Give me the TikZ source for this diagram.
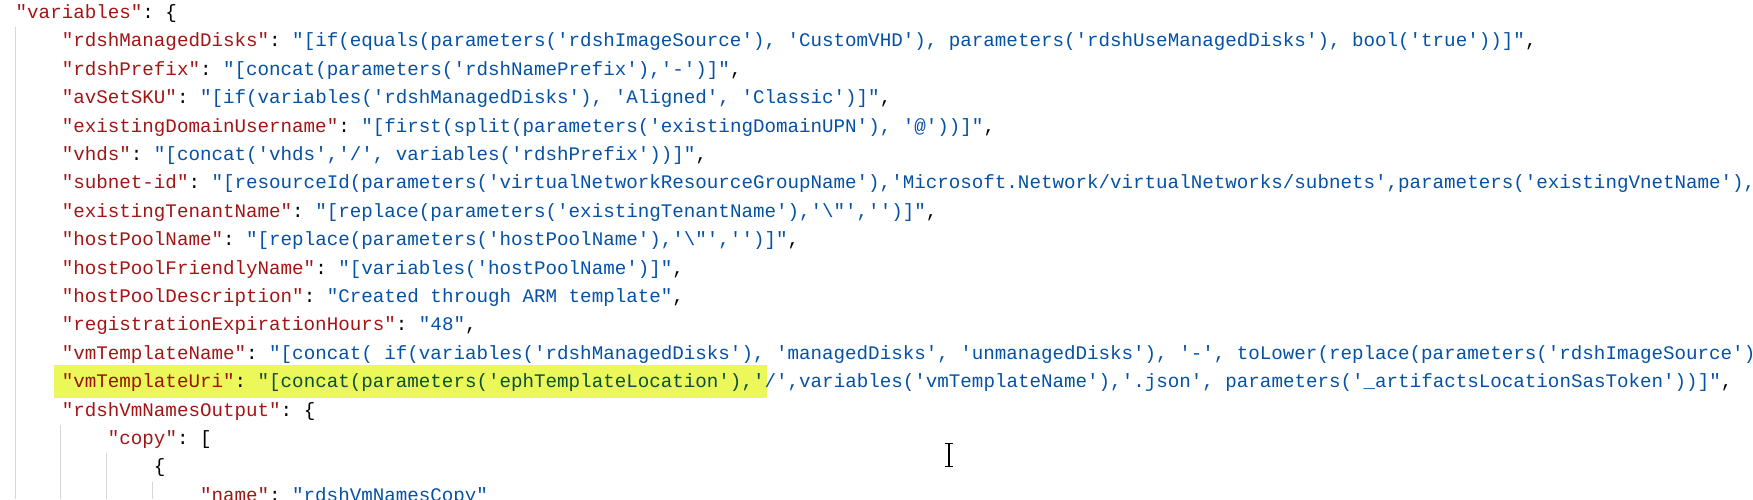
\documentclass[tikz,border=0pt]{standalone}
\usepackage{fontspec}
\setmonofont{Liberation Mono}
\usepackage{tikz}
\usepackage{xcolor}

\definecolor{jsonkey}{HTML}{A31515}
\definecolor{jsonstr}{HTML}{0451A5}
\definecolor{hlkey}{HTML}{96140A}
\definecolor{hlstr}{HTML}{0A4E3C}
\definecolor{marker}{HTML}{ECF85A}
\definecolor{guidegray}{HTML}{D6D6D6}

\newcommand{\jk}[1]{\textcolor{jsonkey}{#1}}
\newcommand{\js}[1]{\textcolor{jsonstr}{#1}}
\newcommand{\bsl}{\char92\relax}

\begin{document}
\begin{tikzpicture}[x=1pt,y=-1pt,
    codeline/.style={anchor=base west, inner sep=0pt, font=\ttfamily\fontsize{19.2pt}{23pt}\selectfont},
    guide/.style={draw=guidegray, line width=1pt}]
    % Canvas
    \useasboundingbox (0,0) rectangle (1753,499);
    \clip (0,0) rectangle (1753,499);

    % Marker on the vmTemplateUri line
    \fill[marker] (54,365) rectangle (767,398);

    % Indent guides
    \foreach \gx/\gy in {15/27, 60.5/425, 106.5/453, 152.5/482}
        \draw[guide] (\gx,\gy) -- (\gx,499);

    % Code lines
    \node[codeline] (l0) at (15.5,18.5) {\jk{"variables"}: \{};
    \node[codeline] (l1) at (61.6,46.9) {\jk{"rdshManagedDisks"}: \js{"[if(equals(parameters('rdshImageSource'), 'CustomVHD'), parameters('rdshUseManagedDisks'), bool('true'))]"},};
    \node[codeline] (l2) at (61.6,75.3) {\jk{"rdshPrefix"}: \js{"[concat(parameters('rdshNamePrefix'),'-')]"},};
    \node[codeline] (l3) at (61.6,103.7) {\jk{"avSetSKU"}: \js{"[if(variables('rdshManagedDisks'), 'Aligned', 'Classic')]"},};
    \node[codeline] (l4) at (61.6,132.1) {\jk{"existingDomainUsername"}: \js{"[first(split(parameters('existingDomainUPN'), '@'))]"},};
    \node[codeline] (l5) at (61.6,160.5) {\jk{"vhds"}: \js{"[concat('vhds','/', variables('rdshPrefix'))]"},};
    \node[codeline] (l6) at (61.6,188.9) {\jk{"subnet-id"}: \js{"[resourceId(parameters('virtualNetworkResourceGroupName'),'Microsoft.Network/virtualNetworks/subnets',parameters('existingVnetName'),}};
    \node[codeline] (l7) at (61.6,217.3) {\jk{"existingTenantName"}: \js{"[replace(parameters('existingTenantName'),'\bsl"','')]"},};
    \node[codeline] (l8) at (61.6,245.7) {\jk{"hostPoolName"}: \js{"[replace(parameters('hostPoolName'),'\bsl"','')]"},};
    \node[codeline] (l9) at (61.6,274.1) {\jk{"hostPoolFriendlyName"}: \js{"[variables('hostPoolName')]"},};
    \node[codeline] (l10) at (61.6,302.5) {\jk{"hostPoolDescription"}: \js{"Created through ARM template"},};
    \node[codeline] (l11) at (61.6,330.9) {\jk{"registrationExpirationHours"}: \js{"48"},};
    \node[codeline] (l12) at (61.6,359.3) {\jk{"vmTemplateName"}: \js{"[concat( if(variables('rdshManagedDisks'), 'managedDisks', 'unmanagedDisks'), '-', toLower(replace(parameters('rdshImageSource')}};
    \node[codeline] (l13) at (61.6,387.7) {\textcolor{hlkey}{"vmTemplateUri"}: \textcolor{hlstr}{"[concat(parameters('ephTemplateLocation'),'}\js{/',variables('vmTemplateName'),'.json', parameters('\_artifactsLocationSasToken'))]"},};
    \node[codeline] (l14) at (61.6,416.1) {\jk{"rdshVmNamesOutput"}: \{};
    \node[codeline] (l15) at (107.7,444.5) {\jk{"copy"}: [};
    \node[codeline] (l16) at (153.7,472.9) {\{};
    \node[codeline] (l17) at (199.8,501.3) {\jk{"name"}: \js{"rdshVmNamesCopy"}};

    % Mouse cursor (I-beam)
    \draw[line width=2.2pt] (949,444) -- (949,466);
    \draw[line width=0.9pt] (945,443.2) -- (953,443.2);
    \draw[line width=0.9pt] (945,466.3) -- (953,466.3);
\end{tikzpicture}
\end{document}
